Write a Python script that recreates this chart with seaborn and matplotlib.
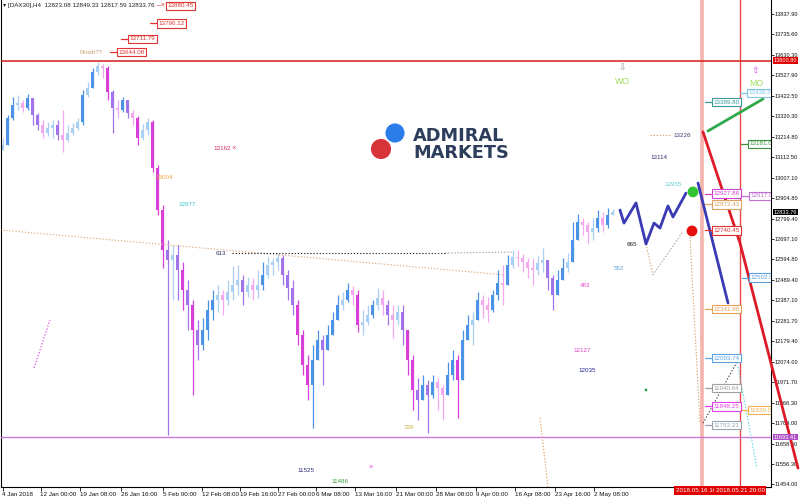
import matplotlib
matplotlib.use("Agg")
import matplotlib.pyplot as plt
import matplotlib.transforms as mtransforms
from matplotlib import font_manager as fm
import numpy as np
import pandas as pd
import seaborn as sns

# ---------------- data (DAX30, H4) ----------------
open0 = 13150
closes = [13174, 13311, 13377, 13387, 13361, 13412, 13326, 13275, 13235, 13260,
          13275, 13225, 13199, 13235, 13260, 13290, 13427, 13463, 13544, 13574,
          13564, 13443, 13361, 13351, 13402, 13336, 13311, 13209, 13250, 13290,
          13057, 12844, 12641, 12591, 12616, 12540, 12439, 12363, 12236, 12160,
          12236, 12337, 12388, 12413, 12388, 12429, 12464, 12489, 12429, 12464,
          12439, 12464, 12515, 12565, 12581, 12601, 12515, 12449, 12363, 12211,
          12058, 11957, 12084, 12185, 12134, 12211, 12287, 12363, 12388, 12439,
          12413, 12261, 12276, 12312, 12363, 12398, 12363, 12312, 12287, 12327,
          12236, 12084, 11932, 11881, 11957, 11906, 11972, 11942, 11906, 12008,
          12084, 11982, 12185, 12261, 12287, 12388, 12363, 12337, 12413, 12474,
          12464, 12565, 12606, 12601, 12581, 12550, 12540, 12576, 12591, 12500,
          12413, 12489, 12550, 12581, 12692, 12783, 12768, 12733, 12753, 12804,
          12768, 12819, 12833.76]
highs = [13209, 13326, 13417, 13427, 13402, 13432, 13412, 13336, 13301, 13290,
         13301, 13301, 13351, 13275, 13285, 13311, 13453, 13493, 13564, 13595,
         13584, 13574, 13453, 13402, 13417, 13402, 13351, 13320, 13280, 13311,
         13301, 13072, 12870, 12692, 12667, 12667, 12581, 12489, 12388, 12287,
         12297, 12388, 12439, 12464, 12439, 12489, 12560, 12565, 12515, 12505,
         12500, 12540, 12581, 12606, 12601, 12621, 12616, 12540, 12489, 12388,
         12236, 12109, 12160, 12236, 12211, 12261, 12327, 12413, 12429, 12474,
         12459, 12439, 12337, 12363, 12388, 12449, 12439, 12388, 12363, 12363,
         12363, 12211, 12109, 11992, 12008, 11982, 12008, 11992, 11957, 12074,
         12134, 12109, 12236, 12312, 12327, 12429, 12413, 12403, 12439, 12540,
         12565, 12616, 12641, 12641, 12621, 12601, 12601, 12611, 12652, 12581,
         12515, 12540, 12601, 12626, 12783, 12824, 12804, 12783, 12804, 12844,
         12834, 12854, 12849.33]
lows = [13148, 13199, 13301, 13351, 13341, 13351, 13275, 13250, 13209, 13219,
        13209, 13199, 13138, 13189, 13225, 13250, 13275, 13417, 13463, 13529,
        13514, 13402, 13235, 13311, 13341, 13311, 13275, 13174, 13199, 13225,
        13037, 12819, 12550, 11704, 12388, 12388, 12337, 12236, 11906, 12084,
        12134, 12185, 12287, 12327, 12312, 12363, 12388, 12413, 12363, 12403,
        12388, 12398, 12439, 12500, 12515, 12540, 12464, 12388, 12312, 12160,
        12008, 11881, 11739, 12109, 11957, 12134, 12211, 12287, 12337, 12378,
        12363, 12226, 12211, 12261, 12297, 12337, 12312, 12261, 12195, 12261,
        12160, 12008, 11830, 11780, 11881, 11714, 11891, 11830, 11780, 11906,
        11982, 11790, 12033, 12185, 12160, 12312, 12297, 12276, 12327, 12388,
        12363, 12479, 12550, 12560, 12530, 12500, 12464, 12515, 12530, 12439,
        12337, 12413, 12489, 12530, 12581, 12733, 12717, 12672, 12692, 12733,
        12733, 12753, 12817.59]

xtick_bars = [0, 7.6, 15.5, 23.7, 32.1, 39.9, 47.5, 55.1, 62.7, 70.5, 78.7,
              86.7, 94.7, 102.5, 110.5, 118.3]
xtick_labels = ["4 Jan 2018", "12 Jan 00:00", "19 Jan 08:00", "26 Jan 16:00",
                "5 Feb 00:00", "12 Feb 08:00", "19 Feb 16:00", "27 Feb 00:00",
                "6 Mar 08:00", "13 Mar 16:00", "21 Mar 00:00", "28 Mar 08:00",
                "9 Apr 00:00", "16 Apr 08:00", "23 Apr 16:00", "2 May 08:00"]
ytick_vals = [13837.90, 13735.60, 13630.30, 13527.90, 13422.50, 13320.30,
              13214.80, 13112.50, 13007.10, 12904.80, 12799.40, 12697.10,
              12594.80, 12489.40, 12387.10, 12281.70, 12179.40, 12074.00,
              11971.70, 11866.30, 11764.00, 11658.60, 11556.30, 11454.00]

# projection / drawing objects
zig_x = [123.5, 124.3, 126.7, 128.7, 130.3, 131.5, 133.1, 134.1, 136.7]
zig_p = [12844, 12778, 12880, 12672, 12778, 12753, 12865, 12809, 12930]
drop_x = [139.1, 145.1]
drop_p = [12981, 12373]
red_x = [140.1, 147.5, 159.1]
red_p = [13240, 12677, 11536]
green_x = [141.1, 152.1]
green_p = [13245, 13407]
dots_x = [138.1, 137.9, 128.7]
dots_p = [12936, 12738, 11932]
dotted = [  # x0, x1, p0, p1, colour
    (-0.5, 100.5, 12743, 12515, '#d8b08a'),
    (45.9, 88.5, 12626, 12626, '#303030'),
    (88.5, 102.1, 12626, 12631, '#a0a0a0'),
    (128.7, 130.1, 12672, 12515, '#d8a070'),
    (130.1, 135.9, 12515, 12728, '#a0a0a0'),
    (137.5, 139.5, 12707, 11764, '#d8a070'),
    (140.1, 146.9, 11764, 12074, '#404040'),
    (147.1, 150.9, 12048, 11536, '#50d0e0'),
    (107.5, 109.1, 11790, 11440, '#e0a060'),
    (6.3, 9.5, 12043, 12287, '#e040e0'),
    (129.5, 133.5, 13225, 13225, '#d8a070'),
]
hlines = [(13600.80, '#d41c1c', 1.1), (11693.41, '#c878d8', 1.0)]
vline_bars = [139.9, 147.5]

# ---------------- style ----------------
sns.set_theme(style="white")


def has_font(name):
    try:
        fm.findfont(fm.FontProperties(family=name), fallback_to_default=False)
        return True
    except Exception:
        return False


if has_font('Liberation Sans Narrow'):
    BASE, FS = 'Liberation Sans Narrow', 5.4
else:
    BASE, FS = 'Liberation Sans', 4.5
plt.rcParams['font.family'] = [BASE, 'DejaVu Sans']
plt.rcParams['axes.unicode_minus'] = False

fig = plt.figure(figsize=(8, 4.98), dpi=100)
fig.patch.set_facecolor('white')
ax = fig.add_axes([1 / 800, 11 / 498, 770 / 800, 487 / 498])
ax.set_facecolor('white')


def bx(px):  # pixel column -> bar index
    return (px - 2.5) / 5.0


def pp(py):  # pixel row -> price
    return 13909.0 - 5.07 * py


ax.set_xlim(bx(1), bx(771))
ax.set_ylim(pp(487), pp(0))

# ---------------- candles ----------------
df = pd.DataFrame({'close': closes, 'high': highs, 'low': lows})
df['open'] = [open0] + closes[:-1]
df['bar'] = np.arange(len(df))
diff = df['close'] - df['open']


def ccol(d):
    if d >= 0:
        return '#4b93e6' if d > 50 else '#a9cff5'
    if d < -100:
        return '#d83fd8'
    if d < -40:
        return '#a274ec'
    return '#f3a8f0'


cols = [ccol(d) for d in diff]
hi = np.maximum(df['high'], np.maximum(df['open'], df['close']))
lo = np.minimum(df['low'], np.minimum(df['open'], df['close']))
ax.vlines(df['bar'], lo, hi, colors=cols, lw=0.9, zorder=2)
ax.bar(df['bar'], np.maximum(np.abs(diff), 6), bottom=np.minimum(df['open'], df['close']),
       width=0.55, color=cols, linewidth=0, zorder=2)

# ---------------- horizontal / vertical lines ----------------
for p, c, w in hlines:
    ax.axhline(p, color=c, lw=w, zorder=3)
ax.axvline(vline_bars[0], color='#f5b3ae', lw=2.6, zorder=1)
ax.axvline(vline_bars[1], color='#e84848', lw=1.0, zorder=1)

for x0, x1, p0, p1, c in dotted:
    ax.plot([x0, x1], [p0, p1], color=c, lw=0.8, ls=(0, (1.2, 1.6)), zorder=3)

sns.lineplot(x=zig_x, y=zig_p, ax=ax, color='#3a3ab4', linewidth=2, sort=False,
             estimator=None, zorder=4)
sns.lineplot(x=drop_x, y=drop_p, ax=ax, color='#3a3ab4', linewidth=2, sort=False,
             estimator=None, zorder=4)
sns.lineplot(x=green_x, y=green_p, ax=ax, color='#2fa84a', linewidth=2,
             sort=False, estimator=None, zorder=4)
ax.plot(red_x, red_p, color='#dd1a28', lw=2, zorder=4, clip_on=False)
sns.scatterplot(x=dots_x[:1], y=dots_p[:1], ax=ax, color='#33c433', s=60,
                edgecolor='none', zorder=5)
sns.scatterplot(x=dots_x[1:2], y=dots_p[1:2], ax=ax, color='#e80c0c', s=60,
                edgecolor='none', zorder=5)
sns.scatterplot(x=dots_x[2:], y=dots_p[2:], ax=ax, color='#20a050', s=4,
                edgecolor='none', zorder=5)

# ---------------- annotations ----------------


def note(px, py, s, color, size=None, ha='left', **kw):
    ax.text(bx(px), pp(py), s, color=color, fontsize=size or FS, ha=ha, va='center',
            zorder=6, **kw)


def boxed(left_px, price, s, color, dash=True, clip=False):
    if dash:
        ax.plot([bx(left_px - 7), bx(left_px)], [price, price], color=color, lw=0.9,
                zorder=6, clip_on=False)
    ax.text(bx(left_px + 1.5), price, s, color=color, fontsize=FS, ha='left', va='center',
            zorder=7, clip_on=clip,
            bbox=dict(boxstyle='square,pad=0.25', fc='white', ec=color, lw=0.8))


# top red targets
boxed(166, 13880.45, "13880.45", '#e03434', dash=False)
note(157, 5.6, "\u2013\u00d7", '#e03434', size=FS + 0.5)
boxed(157, 13790.12, "13790.12", '#e03434')
boxed(128, 13711.79, "13711.79", '#e03434')
boxed(117, 13644.08, "13644.08", '#e03434')
note(79, 52, "Finish??", '#c8a070')

# right column labels
boxed(712, 13389.80, "13389.80", '#3a9a9a')
boxed(747, 13439.50, "13439.50", '#80c4e8', clip=True)
boxed(748, 13181.00, "13181.00", '#3f8f3f', clip=True)
boxed(712, 12927.86, "12927.86", '#d040d0')
boxed(749, 12917.00, "12917.00", '#c070d0', clip=True)
boxed(712, 12872.43, "12872.43", '#e0a060')
boxed(712, 12740.45, "12740.45", '#e03030')
boxed(749, 12502.00, "12502.00", '#5a9ee0', clip=True)
boxed(712, 12341.86, "12341.86", '#e8a050')
boxed(712, 12093.74, "12093.74", '#5aa4e6')
boxed(712, 11940.64, "11940.64", '#a0a0a0')
boxed(712, 11848.25, "11848.25", '#e040e0')
boxed(748, 11829.00, "11829.00", '#f0b050', clip=True)
boxed(712, 11753.23, "11753.23", '#9aa4b0')

# scattered wave labels
note(213, 148, "13162", '#d0305a')
note(231, 148, "\u00d7", '#e0407a', size=FS + 1)
note(155, 177, "13004", '#f0a040')
note(178, 204, "12877", '#40c8c8')
note(216, 253, "613", '#303060')
note(297, 470, "11525", '#303080')
note(331, 481, "11486", '#40a040')
note(371, 467, "\u00d7", '#e040e0', size=FS + 1, ha='center')
note(404, 427, "726", '#c8b040')
note(573, 350, "12127", '#e040c0')
note(578, 370, "12035", '#2828a0')
note(580, 285, "483", '#e050d0')
note(614, 268, "552", '#60a8e0')
note(627, 244, "665", '#202020')
note(650, 157, "13114", '#303070')
note(673, 135, "13226", '#404070')
note(664, 184, "12955", '#60d0d0')
note(622, 68, "\u21e9", '#909090', size=6.5, ha='center')
note(622, 81, "WO", '#a0e060', size=FS + 1.8, ha='center')
note(755, 70, "\u21e7", '#e040e0', size=6.5, ha='center')
note(756, 84, "MO", '#a0e060', size=FS + 1.8, ha='center')

# logo
ax.scatter([bx(395)], [pp(133)], s=190, color='#2b7de9', edgecolor='none', zorder=6)
ax.scatter([bx(381)], [pp(149)], s=210, color='#d9333a', edgecolor='none', zorder=6)
ax.text(bx(413), pp(135.5), "ADMIRAL", fontsize=12.8, fontweight='bold', color='#2d3e5c',
        family='DejaVu Sans', ha='left', va='center', zorder=6)
ax.text(bx(413), pp(152.5), "MARKETS", fontsize=12.8, fontweight='bold', color='#2d3e5c',
        family='DejaVu Sans', ha='left', va='center', zorder=6)

# price-axis markers
YFS = FS - 0.4
yax = mtransforms.blended_transform_factory(ax.transAxes, ax.transData)
for p, s, fc in [(13600.80, "13600.80", '#e00000'), (12833.76, "12833.76", '#000000'),
                 (11693.41, "11693.41", '#b050c8')]:
    ax.text(1.0 + 2.5 / 770, p, s, transform=yax, ha='left', va='center', fontsize=YFS,
            color='white', zorder=8, clip_on=False,
            bbox=dict(boxstyle='square,pad=0.15', fc=fc, ec='none'))

# title
fig.text(3 / 800, 1 - 6 / 498, "\u25be [DAX30],H4  12823.08 12849.33 12817.59 12833.76",
         fontsize=FS, color='#202020', ha='left', va='center')

# date labels of vertical lines (second box hides the end of the first)
fig.text(716 / 800, (498 - 490.5) / 498, "2018.05.16 16", fontsize=FS, color='white',
         ha='right', va='center', zorder=9,
         bbox=dict(boxstyle='square,pad=0.25', fc='#e00000', ec='none'))
fig.text(740 / 800, (498 - 490.5) / 498, "2018.05.21 20:00", fontsize=FS, color='white',
         ha='center', va='center', zorder=10,
         bbox=dict(boxstyle='square,pad=0.25', fc='#e00000', ec='none'))

# ---------------- axes ----------------
ax.yaxis.tick_right()
ax.set_yticks(ytick_vals)
ax.set_yticklabels([f"{v:.2f}" for v in ytick_vals])
ax.tick_params(axis='y', right=True, left=False, length=2.0, width=0.6, pad=0.8,
               labelsize=YFS, colors='#101010', direction='out')
ax.set_xticks(xtick_bars)
ax.set_xticklabels(xtick_labels, ha='left')
ax.tick_params(axis='x', bottom=True, length=3, width=0.6, pad=0.8, labelsize=FS,
               colors='#101010', direction='out')
ax.set_xlabel("")
ax.set_ylabel("")
for side in ['left', 'right', 'bottom']:
    ax.spines[side].set_visible(True)
    ax.spines[side].set_color('black')
    ax.spines[side].set_linewidth(0.8)
ax.spines['top'].set_visible(False)
ax.grid(False)
if ax.get_legend() is not None:
    ax.get_legend().remove()

fig.savefig("out.png", dpi=100, facecolor='white')
